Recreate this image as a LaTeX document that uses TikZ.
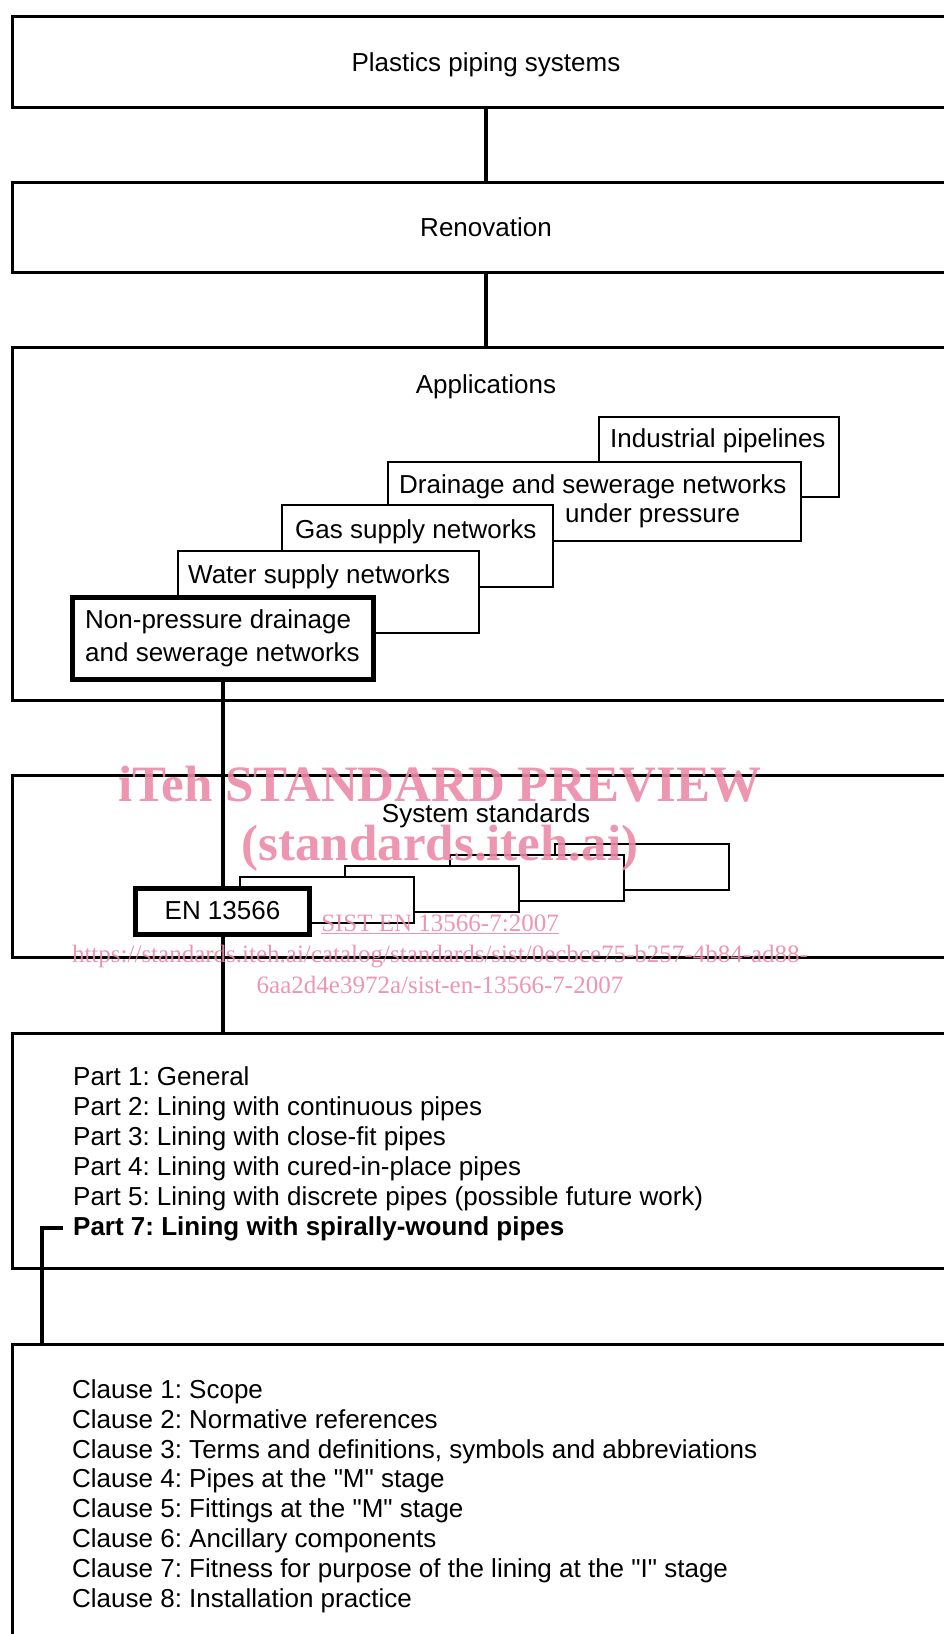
\documentclass[tikz,border=0pt]{standalone}
\usepackage{fontspec}
\setmainfont{Liberation Sans}
\newfontfamily\wmfont{Liberation Serif}
\frenchspacing

\definecolor{wmpink}{RGB}{236,138,168}

\tikzset{
  bigbox/.style={draw, line width=3pt, minimum width=948pt, text height=19pt, text depth=0pt},
  smallbox/.style={draw, fill=white, line width=2pt},
  thickbox/.style={draw, fill=white, line width=5pt},
  conn/.style={line width=4pt},
  listtext/.style={anchor=base west, inner sep=0pt},
  boxtext/.style={anchor=base west, inner sep=0pt},
  wmark/.style={text=wmpink, opacity=.9, inner sep=0pt, anchor=base}
}

\begin{document}
\begin{tikzpicture}[x=1pt, y=-1pt, font=\fontsize{26}{30}\selectfont]

  \useasboundingbox (0,0) rectangle (944,1634);
  \clip (0,0) rectangle (944,1634);

  % main levels
  \node[bigbox, minimum height=91pt] (plastics) at (486,61.5) {Plastics piping systems};
  \node[bigbox, minimum height=90pt] (renov) at (486,227) {Renovation};
  \node[bigbox, minimum height=353pt] (applic) at (486,523.5) {};
  \node[anchor=base] (applictitle) at (486,393) {Applications};
  \node[bigbox, minimum height=182pt] (sysstd) at (486,866) {};
  \node[anchor=base] (sysstdtitle) at (486,822) {System standards};
  \node[bigbox, minimum height=235pt] (parts) at (486,1150.5) {};
  \node[bigbox, minimum height=320pt] (clauses) at (486,1504) {};

  \draw[conn] (plastics.south) -- (renov.north);
  \draw[conn] (renov.south) -- (applic.north);

  % applications
  \draw[smallbox] (599,417) rectangle (839,497);
  \node[boxtext] (indust) at (610,447) {Industrial pipelines};
  \draw[smallbox] (388,462) rectangle (801,541);
  \node[boxtext] (drain) at (399,493) {Drainage and sewerage networks};
  \node[boxtext] (drainb) at (565,522) {under pressure};
  \draw[smallbox] (282,505) rectangle (553,587);
  \node[boxtext] (gas) at (295,538) {Gas supply networks};
  \draw[smallbox] (178,551) rectangle (479,633);
  \node[boxtext] (water) at (188,583) {Water supply networks};
  \node[thickbox, minimum width=301pt, minimum height=82pt, align=left] (nonpress) at (222.5,638)
    {Non-pressure drainage\\[3pt]and sewerage networks};

  % system standards
  \draw[smallbox] (555,844) rectangle (729,890);
  \draw[smallbox] (450,855) rectangle (624,901);
  \draw[smallbox] (345,866) rectangle (519,912);
  \draw[smallbox] (240,877) rectangle (414,923);

  \draw[conn] (nonpress.south) -- (sysstd.north -| nonpress.south);
  \draw[conn] (sysstd.north -| nonpress.south) -- (222.5,888);
  \node[thickbox, minimum width=174pt, minimum height=46pt] (en) at (222.5,911) {EN 13566};
  \draw[conn] (en.south) -- (en.south |- parts.north);

  % parts
  \node[listtext] (part1) at (73,1085) {Part 1: General};
  \node[listtext] (part2) at (73,1115) {Part 2: Lining with continuous pipes};
  \node[listtext] (part3) at (73,1145) {Part 3: Lining with close-fit pipes};
  \node[listtext] (part4) at (73,1175) {Part 4: Lining with cured-in-place pipes};
  \node[listtext] (part5) at (73,1205) {Part 5: Lining with discrete pipes (possible future work)};
  \node[listtext, font=\fontsize{26}{30}\selectfont\bfseries] (part7) at (73,1235) {Part 7: Lining with spirally-wound pipes};

  \coordinate (clausetop) at (42,1344);
  \draw[conn] ([xshift=-10pt]part7.west) -| (clausetop);

  % clauses
  \node[listtext] (clause1) at (72,1398) {Clause 1: Scope};
  \node[listtext] (clause2) at (72,1428) {Clause 2: Normative references};
  \node[listtext] (clause3) at (72,1458) {Clause 3: Terms and definitions, symbols and abbreviations};
  \node[listtext] (clause4) at (72,1487) {Clause 4: Pipes at the \textquotedbl M\textquotedbl{} stage};
  \node[listtext] (clause5) at (72,1517) {Clause 5: Fittings at the \textquotedbl M\textquotedbl{} stage};
  \node[listtext] (clause6) at (72,1547) {Clause 6: Ancillary components};
  \node[listtext] (clause7) at (72,1577) {Clause 7: Fitness for purpose of the lining at the \textquotedbl I\textquotedbl{} stage};
  \node[listtext] (clause8) at (72,1607) {Clause 8: Installation practice};

  % watermark
  \node[wmark, font=\wmfont\bfseries\fontsize{51}{55}\selectfont] (wm1) at (440,801) {iTeh STANDARD PREVIEW};
  \node[wmark, font=\wmfont\bfseries\fontsize{51}{55}\selectfont] (wm2) at (440,860) {(standards.iteh.ai)};
  \node[wmark, font=\wmfont\fontsize{25}{28}\selectfont] (wm3) at (440,931) {\underline{SIST EN 13566-7:2007}};
  \node[wmark, font=\wmfont\fontsize{25}{28}\selectfont] (wm4) at (440,962) {https://standards.iteh.ai/catalog/standards/sist/0ecbce75-b257-4b84-ad88-};
  \node[wmark, font=\wmfont\fontsize{25}{28}\selectfont] (wm5) at (440,993) {6aa2d4e3972a/sist-en-13566-7-2007};

\end{tikzpicture}
\end{document}
